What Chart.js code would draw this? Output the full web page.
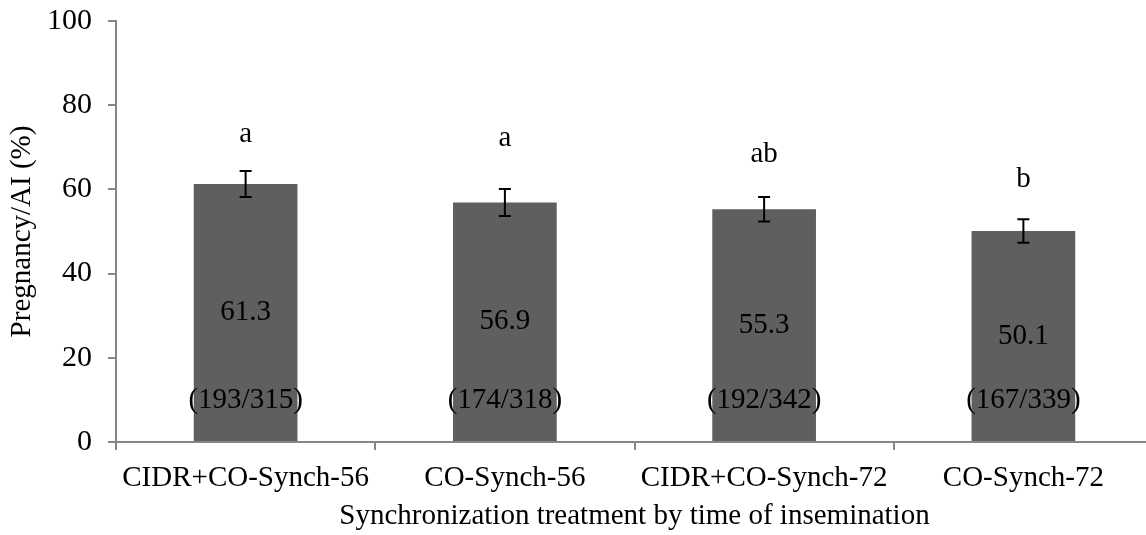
<!DOCTYPE html>
<html>
<head>
<meta charset="utf-8">
<script src="https://cdn.jsdelivr.net/npm/chart.js@4"></script>
<style>
  html, body { margin: 0; padding: 0; background: #ffffff; overflow: hidden; }
  #wrap { width: 1146px; height: 535px; overflow: hidden; }
  canvas { display: block; }
</style>
</head>
<body>
<div id="wrap"><canvas id="c" width="1160" height="535"></canvas></div>
<script>
// ---- data ----
const categories = ['CIDR+CO-Synch-56', 'CO-Synch-56', 'CIDR+CO-Synch-72', 'CO-Synch-72'];
const pregRate = [61.3, 56.9, 55.3, 50.1];
const stdErr = [3.1, 3.2, 2.9, 2.8];
const pregnant = [193, 174, 192, 167];
const inseminated = [315, 318, 342, 339];
const sigLetters = ['a', 'a', 'ab', 'b'];
const letterLevel = [71.2, 70.3, 66.4, 60.5];   // value at which each letter sits
const fractionLevel = 10;                         // value at which (n/N) labels sit
const yTicks = [0, 20, 40, 60, 80, 100];

const FONT = 'Liberation Serif, Times New Roman, serif';
const AXIS = '#868686';

const annotations = {
  id: 'annotations',
  afterDatasetsDraw(chart) {
    const ctx = chart.ctx;
    const meta = chart.getDatasetMeta(0);
    const y = chart.scales.y;
    ctx.save();
    meta.data.forEach((bar, i) => {
      const x = bar.x;
      // error bar
      const yHi = y.getPixelForValue(pregRate[i] + stdErr[i]);
      const yLo = y.getPixelForValue(pregRate[i] - stdErr[i]);
      ctx.strokeStyle = '#000';
      ctx.lineWidth = 2;
      ctx.beginPath();
      ctx.moveTo(x, yHi); ctx.lineTo(x, yLo);
      ctx.moveTo(x - 6, yHi); ctx.lineTo(x + 6, yHi);
      ctx.moveTo(x - 6, yLo); ctx.lineTo(x + 6, yLo);
      ctx.stroke();
      ctx.fillStyle = '#000';
      ctx.font = '29px ' + FONT;
      ctx.textAlign = 'center';
      // value label at middle of bar
      ctx.textBaseline = 'middle';
      const yMid = (bar.y + bar.base) / 2;
      ctx.fillText(pregRate[i].toFixed(1), x, yMid);
      // fraction label
      ctx.fillText('(' + pregnant[i] + '/' + inseminated[i] + ')', x, y.getPixelForValue(fractionLevel));
      // significance letter
      ctx.textBaseline = 'alphabetic';
      ctx.fillText(sigLetters[i], x, y.getPixelForValue(letterLevel[i]));
    });
    ctx.restore();
  }
};

new Chart(document.getElementById('c'), {
  type: 'bar',
  data: {
    labels: categories,
    datasets: [{
      data: pregRate,
      backgroundColor: '#5f5f5f',
      borderWidth: 0,
      barPercentage: 0.4,
      categoryPercentage: 1.0
    }]
  },
  options: {
    responsive: false,
    animation: false,
    devicePixelRatio: 1,
    layout: { padding: { left: 0, right: 7, top: 21, bottom: 0 } },
    plugins: { legend: { display: false }, tooltip: { enabled: false } },
    scales: {
      x: {
        grid: { display: true, drawOnChartArea: false, drawTicks: true, tickLength: 8, color: AXIS, lineWidth: 2, offset: true },
        border: { display: true, color: AXIS, width: 2 },
        ticks: { color: '#000', font: { family: FONT, size: 29 }, padding: 11, maxRotation: 0, autoSkip: false },
        title: { display: true, text: 'Synchronization treatment by time of insemination', color: '#000', font: { family: FONT, size: 29 }, padding: { top: 0, bottom: 1 } },
        afterFit(scale) { scale.height = 93; scale.paddingLeft = 0; scale.paddingRight = 0; }
      },
      y: {
        min: 0, max: 100,
        afterBuildTicks(scale) { scale.ticks = yTicks.map(v => ({ value: v })); },
        grid: { display: true, drawOnChartArea: false, drawTicks: true, tickLength: 8, color: AXIS, lineWidth: 2 },
        border: { display: true, color: AXIS, width: 2 },
        ticks: { color: '#000', font: { family: FONT, size: 30 }, padding: 16 },
        title: { display: true, text: 'Pregnancy/AI (%)', color: '#000', font: { family: FONT, size: 29 }, padding: { top: 5, bottom: 0 } },
        afterFit(scale) { scale.width = 116; scale.paddingTop = 0; scale.paddingBottom = 0; }
      }
    }
  },
  plugins: [annotations]
});
</script>
</body>
</html>
